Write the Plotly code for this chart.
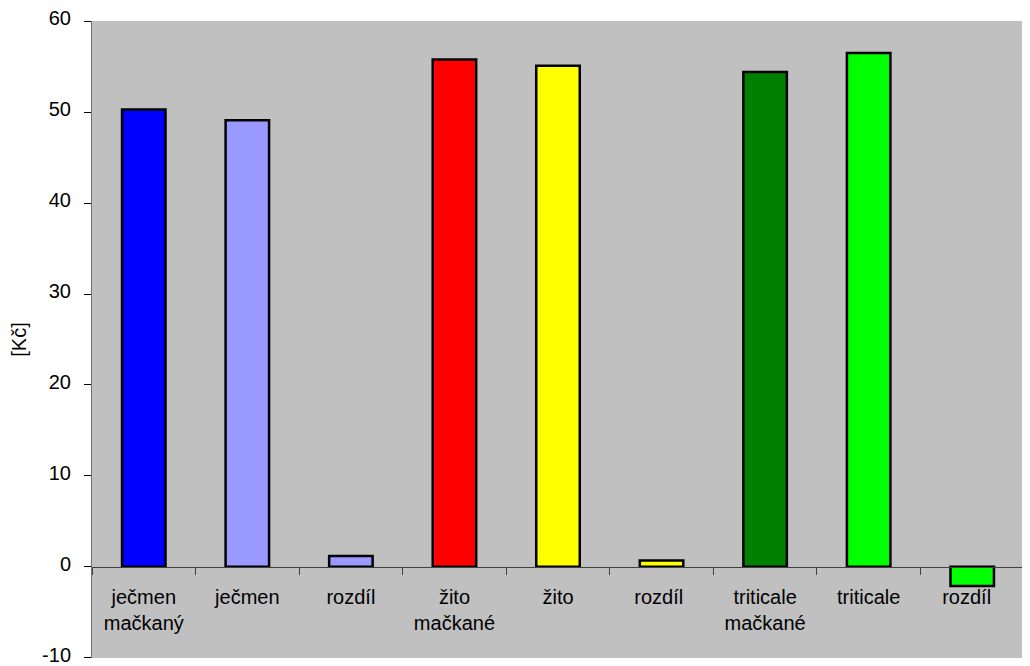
import plotly.graph_objects as go

categories = ["ječmen<br>mačkaný", "ječmen", "rozdíl", "žito<br>mačkané", "žito",
              "rozdíl ", "triticale<br>mačkané", "triticale", "rozdíl  "]
values = [50.3, 49.1, 1.2, 55.8, 55.1, 0.7, 54.4, 56.5, -2.1]
colors = ["#0000FF", "#9999FF", "#9999FF", "#FF0000", "#FFFF00",
          "#FFFF00", "#008000", "#00FF00", "#00FF00"]
y_ticks = [-10, 0, 10, 20, 30, 40, 50, 60]
y_tick_labels = ["-10", "0", "10", "20", "30", "40", "50", "60"]
y_title = "[Kč]"

y_min, y_max = -10, 60

fig = go.Figure(go.Bar(
    x=categories, y=values,
    marker=dict(color=colors, line=dict(color="black", width=2.5)),
    width=0.42,
))

font = dict(family="Liberation Sans, Arial, sans-serif", size=20, color="black")

fig.update_layout(
    width=1022, height=658,
    margin=dict(l=84, r=6, t=13, b=8),
    plot_bgcolor="#C0C0C0",
    paper_bgcolor="white",
    font=font,
    showlegend=False,
    xaxis=dict(
        anchor="free",
        position=(0 - y_min) / (y_max - y_min),
        showline=True, linecolor="#404040", linewidth=1,
        ticks="outside", tickson="boundaries", ticklen=7, tickcolor="#404040",
        showgrid=False, zeroline=False,
        tickfont=font,
        ticklabelstandoff=12,
        automargin=False,
    ),
    yaxis=dict(
        range=[y_min - 0.02, y_max + 0.02],
        tickvals=y_ticks,
        ticktext=y_tick_labels,
        showline=True, linecolor="#707070", linewidth=1,
        ticks="outside", ticklen=7, tickcolor="black",
        showgrid=False, zeroline=False,
        tickfont=font,
        ticklabelstandoff=9,
        ticklabelshift=-3,
        ticklabeloverflow="allow",
        automargin=False,
        title=dict(text=y_title, font=dict(family="Liberation Sans, Arial, sans-serif", size=20, color="black"), standoff=16),
    ),
)

fig.write_html("out.html")
